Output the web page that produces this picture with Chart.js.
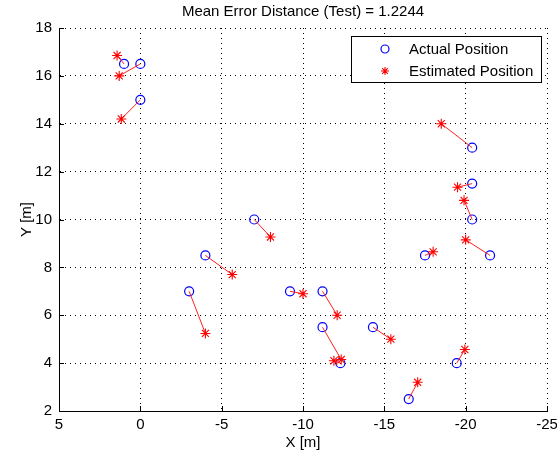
<!DOCTYPE html>
<html>
<head>
<meta charset="utf-8">
<script src="https://cdn.jsdelivr.net/npm/chart.js@4.4.0/dist/chart.umd.min.js"></script>
<style>
  html, body { margin: 0; padding: 0; background: #fff; }
  #wrap { width: 557px; height: 457px; }
</style>
</head>
<body>
<div id="wrap"><canvas id="errChart" width="557" height="457"></canvas></div>
<script>
// actual positions (blue circles)
var actualX = [1.0, 0.0, 0.0, -20.4, -20.4, -20.4, -21.5, -17.5, -7.0, -4.0, -3.0, -9.2, -11.2, -11.2, -12.3, -14.3, -19.45, -16.5];
var actualY = [16.5, 16.5, 15.0, 13.0, 11.5, 10.0, 8.5, 8.5, 10.0, 8.5, 7.0, 7.0, 7.0, 5.5, 4.0, 5.5, 4.0, 2.5];
// estimated positions (red stars), same order as above
var estX = [1.43, 1.3, 1.17, -18.5, -19.5, -19.9, -20.0, -18.0, -8.0, -5.65, -4.0, -10.0, -12.1, -12.35, -11.9, -15.4, -19.95, -17.05];
var estY = [16.85, 16.0, 14.2, 14.0, 11.35, 10.8, 9.15, 8.65, 9.27, 7.7, 5.24, 6.9, 6.0, 4.15, 4.1, 5.0, 4.57, 3.2];

var xTicks = [5, 0, -5, -10, -15, -20, -25];
var yTicks = [2, 4, 6, 8, 10, 12, 14, 16, 18];

var FONT = 'Liberation Sans, Arial, Helvetica, sans-serif';
Chart.defaults.color = '#000';
Chart.defaults.font.family = FONT;
Chart.defaults.font.size = 15;

function pts(xs, ys) {
    return xs.map(function (x, i) { return { x: x, y: ys[i] }; });
}

var datasets = [];
// error lines, one per pair
for (var i = 0; i < actualX.length; i++) {
    datasets.push({
        type: 'line',
        label: 'err' + i,
        data: [{ x: actualX[i], y: actualY[i] }, { x: estX[i], y: estY[i] }],
        borderColor: '#ff2020',
        borderWidth: 1,
        pointRadius: 0,
        fill: false,
        order: 1
    });
}
datasets.push({
    type: 'scatter',
    label: 'Actual Position',
    data: pts(actualX, actualY),
    pointStyle: 'circle',
    pointRadius: 4.5,
    pointBorderColor: '#0000ff',
    pointBackgroundColor: 'rgba(0,0,0,0)',
    pointBorderWidth: 1.2,
    order: 2
});
datasets.push({
    type: 'scatter',
    label: 'Estimated Position',
    data: pts(estX, estY),
    pointStyle: 'star',
    pointRadius: 5,
    pointBorderColor: '#ff0000',
    pointBackgroundColor: '#ff0000',
    pointBorderWidth: 1.1,
    order: 0
});

// inward tick marks on left and bottom axes
var innerTicks = {
    id: 'innerTicks',
    afterDraw: function (chart) {
        var ctx = chart.ctx, a = chart.chartArea;
        var xs = chart.scales.x, ys = chart.scales.y;
        ctx.save();
        ctx.strokeStyle = '#000';
        ctx.lineWidth = 1;
        ctx.beginPath();
        xTicks.forEach(function (t) {
            var px = Math.round(xs.getPixelForValue(t)) + 0.5;
            ctx.moveTo(px, a.bottom);
            ctx.lineTo(px, a.bottom - 5);
        });
        yTicks.forEach(function (t) {
            var py = Math.round(ys.getPixelForValue(t)) + 0.5;
            ctx.moveTo(a.left, py);
            ctx.lineTo(a.left + 5, py);
        });
        ctx.stroke();
        ctx.restore();
    }
};

// boxed legend in the upper right corner
var boxLegend = {
    id: 'boxLegend',
    afterDraw: function (chart) {
        var ctx = chart.ctx;
        var items = chart.data.datasets.filter(function (d) { return d.type === 'scatter'; });
        var x0 = 351.5, y0 = 36.5, w = 190, h = 46;
        ctx.save();
        ctx.fillStyle = '#fff';
        ctx.fillRect(x0, y0, w, h);
        ctx.strokeStyle = '#000';
        ctx.lineWidth = 1;
        ctx.strokeRect(x0, y0, w, h);
        ctx.textBaseline = 'middle';
        items.forEach(function (d, k) {
            var cy = 49 + k * 22;
            ctx.save();
            ctx.strokeStyle = d.pointBorderColor;
            ctx.fillStyle = d.pointBackgroundColor;
            ctx.lineWidth = d.pointBorderWidth;
            Chart.helpers.drawPoint(ctx, {
                pointStyle: d.pointStyle,
                radius: 4,
                borderWidth: d.pointBorderWidth,
                rotation: 0
            }, 385, cy);
            ctx.restore();
            ctx.font = '15px ' + FONT;
            ctx.fillStyle = '#000';
            ctx.fillText(d.label, 409, cy + 1);
        });
        ctx.restore();
    }
};

var chart = new Chart(document.getElementById('errChart').getContext('2d'), {
    data: { datasets: datasets },
    options: {
        responsive: false,
        animation: false,
        layout: { padding: { left: 0, right: 0, top: 0, bottom: 0 } },
        plugins: {
            legend: { display: false },
            tooltip: { enabled: false },
            title: {
                display: true,
                fullSize: false,
                text: 'Mean Error Distance (Test) = 1.2244',
                font: { size: 15, weight: 'normal' },
                color: '#000',
                padding: { top: 3, bottom: 7 }
            }
        },
        scales: {
            x: {
                type: 'linear',
                reverse: true,
                min: -25,
                max: 5,
                afterBuildTicks: function (s) { s.ticks = xTicks.map(function (v) { return { value: v }; }); },
                afterFit: function (s) { s.height = 46; s.paddingLeft = 0; s.paddingRight = 10; },
                ticks: { padding: 5, maxRotation: 0, font: { size: 15 } },
                grid: { color: '#000', lineWidth: 1, drawTicks: false },
                border: { display: true, color: '#000', width: 1, dash: [1, 4] },
                title: { display: true, text: 'X [m]', font: { size: 15 }, padding: { top: 0, bottom: 5 } }
            },
            y: {
                type: 'linear',
                min: 2,
                max: 18,
                afterBuildTicks: function (s) { s.ticks = yTicks.map(function (v) { return { value: v }; }); },
                afterFit: function (s) { s.width = 59; },
                ticks: { padding: 7, font: { size: 15 } },
                grid: { color: '#000', lineWidth: 1, drawTicks: false },
                border: { display: true, color: '#000', width: 1, dash: [1, 4] },
                title: { display: true, text: 'Y [m]', font: { size: 15 }, padding: { top: 18, bottom: 0 } }
            }
        }
    },
    plugins: [innerTicks, boxLegend]
});
</script>
</body>
</html>
